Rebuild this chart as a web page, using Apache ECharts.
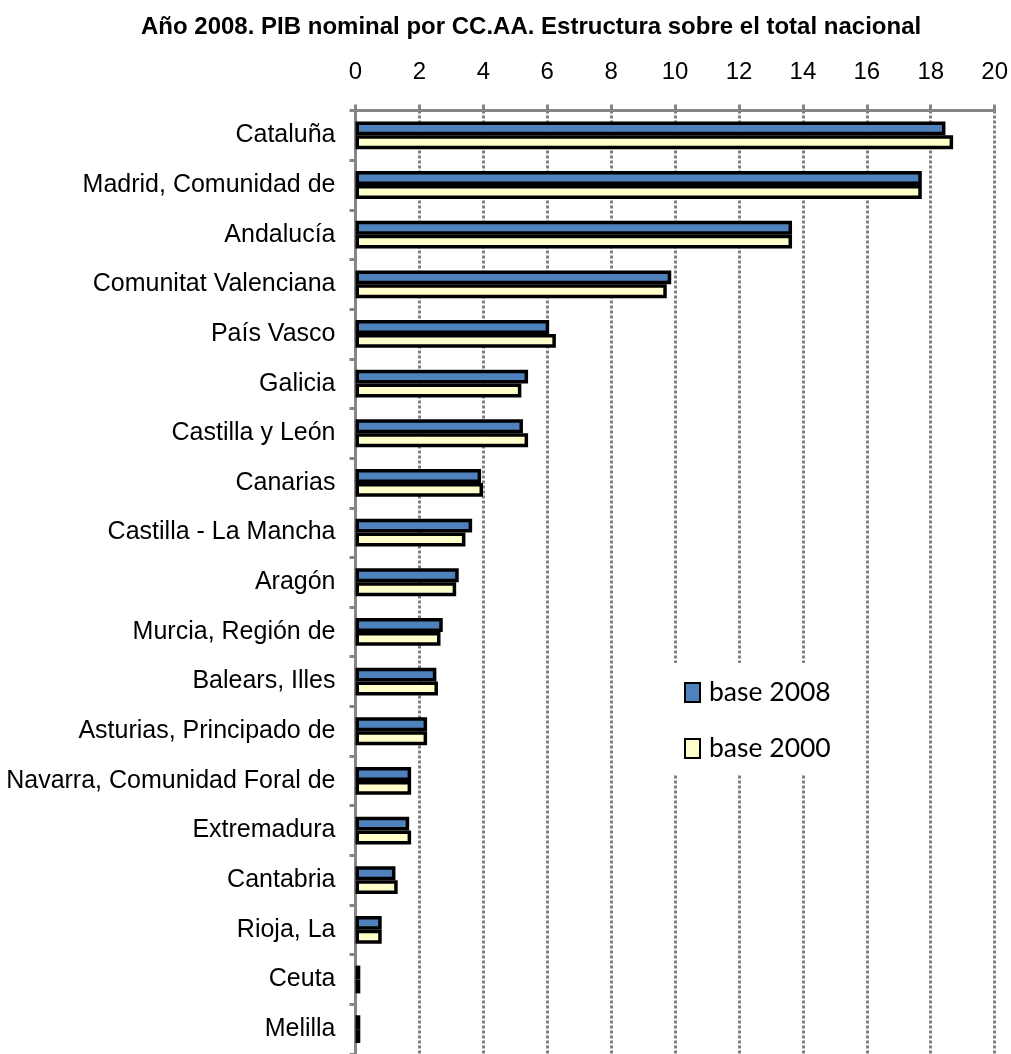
<!DOCTYPE html>
<html><head><meta charset="utf-8">
<script src="https://cdn.jsdelivr.net/npm/echarts@6/dist/echarts.min.js"></script>
<style>html,body{margin:0;padding:0;background:#fff}#c{width:1011px;height:1054px}</style>
</head><body><div id="c"></div>
<script>
var categories = ['Cataluña','Madrid, Comunidad de','Andalucía','Comunitat Valenciana','País Vasco','Galicia','Castilla y León','Canarias','Castilla - La Mancha','Aragón','Murcia, Región de','Balears, Illes','Asturias, Principado de','Navarra, Comunidad Foral de','Extremadura','Cantabria','Rioja, La','Ceuta','Melilla'];
var base2008 = [18.46,17.72,13.66,9.88,6.06,5.40,5.24,3.93,3.65,3.23,2.73,2.53,2.24,1.74,1.68,1.25,0.82,0.15,0.15];
var base2000 = [18.70,17.72,13.66,9.74,6.27,5.19,5.40,3.99,3.44,3.15,2.66,2.58,2.24,1.74,1.74,1.32,0.82,0.15,0.15];
var seriesNames = ['base 2008','base 2000'];
var titleText = 'Año 2008. PIB nominal por CC.AA. Estructura sobre el total nacional';

var gray = '#868686';
var font = 'Liberation Sans, Arial, sans-serif';
var chart = echarts.init(document.getElementById('c'));
chart.setOption({
  backgroundColor: '#fff',
  animation: false,
  title: {text: titleText, left: 136, top: 10,
    textStyle: {fontFamily: font, fontSize: 24, fontWeight: 'bold', color: '#000'}},
  grid: {left: 355.5, right: 16, top: 110.5, height: 948, containLabel: false},
  legend: {
    orient: 'vertical', left: 670, top: 663,
    padding: [16, 28, 13, 14], itemGap: 29,
    backgroundColor: '#fff', icon: 'rect', itemWidth: 15, itemHeight: 19,
    textStyle: {fontFamily: 'Lato, sans-serif', fontSize: 26.5, color: '#000', padding: [0,0,0,4]},
    data: seriesNames
  },
  xAxis: {
    type: 'value', position: 'top', min: 0, max: 20, interval: 2,
    axisLine: {show: true, lineStyle: {color: gray, width: 3}},
    axisTick: {show: true, length: 6, lineStyle: {color: gray, width: 3}},
    axisLabel: {fontFamily: font, fontSize: 24, color: '#000', margin: 26},
    splitLine: {show: true, lineStyle: {color: '#808080', width: 3, type: [3, 2]}}
  },
  yAxis: {
    type: 'category', inverse: true, data: categories,
    axisLine: {show: true, lineStyle: {color: gray, width: 3}},
    axisTick: {show: true, length: 6, lineStyle: {color: gray, width: 3}},
    axisLabel: {fontFamily: font, fontSize: 25, color: '#000', margin: 20}
  },
  series: [
    {name: seriesNames[0], type: 'bar', data: base2008, barGap: '0%', barCategoryGap: '44%',
      itemStyle: {color: '#4F81BD', borderColor: '#000', borderWidth: 3.5}},
    {name: seriesNames[1], type: 'bar', data: base2000, barGap: '0%', barCategoryGap: '44%',
      itemStyle: {color: '#FFFFCC', borderColor: '#000', borderWidth: 3.5}}
  ]
});
</script></body></html>
